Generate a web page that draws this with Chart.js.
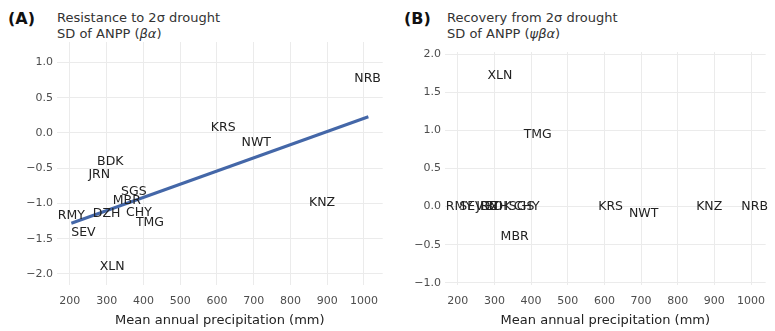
<!DOCTYPE html>
<html>
<head>
<meta charset="utf-8">
<script src="https://cdn.jsdelivr.net/npm/chart.js@4"></script>
<style>
  body { margin: 0; background: #fff; font-family: "DejaVu Sans", sans-serif; }
  #wrap { position: relative; width: 775px; height: 331px; overflow: hidden; }
  .panel { position: absolute; top: 0; height: 331px; }
  .tag { position: absolute; font-size: 16px; font-weight: bold; color: #111; top: 9px; }
  .ttl { position: absolute; font-size: 13px; color: #333; line-height: 16px; top: 10px; }
</style>
</head>
<body>
<div id="wrap">
  <div class="tag" style="left:8px">(A)</div>
  <div class="ttl" style="left:57px">Resistance to 2σ drought<br>SD of ANPP (<i>βα</i>)</div>
  <div class="tag" style="left:404px">(B)</div>
  <div class="ttl" style="left:447px">Recovery from 2σ drought<br>SD of ANPP (<i>ψβα</i>)</div>
  <div class="panel" style="left:0;width:388px"><canvas id="chartA" width="388" height="331"></canvas></div>
  <div class="panel" style="left:388px;width:387px"><canvas id="chartB" width="387" height="331"></canvas></div>
</div>
<script>
// sites and values
const sites      = ["RMY", "SEV", "JRN", "BDK", "DZH", "XLN", "MBR", "SGS", "CHY", "TMG", "KRS", "NWT", "KNZ", "NRB"];
const precip     = [204, 237, 280, 310, 300, 315, 355, 374, 388, 418, 617, 707, 886, 1010];
const resistance = [-1.18, -1.42, -0.59, -0.41, -1.15, -1.90, -0.96, -0.83, -1.13, -1.28, 0.08, -0.14, -0.99, 0.77];
const recovery   = [0, 0, 0, 0, 0, 1.72, -0.40, 0, 0, 0.94, 0, -0.09, 0, 0];

// fitted line (panel A)
const fitPrecip     = [204, 1012];
const fitResistance = [-1.28, 0.23];

const xTicks  = [200, 300, 400, 500, 600, 700, 800, 900, 1000];
const yTicksA = [-2.0, -1.5, -1.0, -0.5, 0.0, 0.5, 1.0];
const yTicksB = [-1.0, -0.5, 0.0, 0.5, 1.0, 1.5, 2.0];

const gridCol = "#ebebeb";
const tickCol = "#4d4d4d";

// draws the site code at each point
const siteLabels = {
  id: "siteLabels",
  afterDatasetsDraw(chart) {
    const ctx = chart.ctx;
    const meta = chart.getDatasetMeta(0);
    ctx.save();
    ctx.font = "12.5px 'DejaVu Sans'";
    ctx.fillStyle = "#222";
    ctx.textAlign = "center";
    ctx.textBaseline = "middle";
    meta.data.forEach((pt, i) => {
      ctx.fillText(sites[i], pt.x, pt.y);
    });
    ctx.restore();
  }
};

function fmtY(v) {
  return v.toFixed(1).replace("-", "\u2212");
}

function makeChart(id, yVals, yTicks, yMin, yMax, xMax, topPad, rightPad, withFit) {
  const datasets = [{
    data: precip.map((p, i) => ({ x: p, y: yVals[i] })),
    pointRadius: 0,
    showLine: false
  }];
  if (withFit) {
    datasets.push({
      type: "line",
      data: fitPrecip.map((p, i) => ({ x: p, y: fitResistance[i] })),
      borderColor: "#4467a8",
      borderWidth: 3,
      pointRadius: 0
    });
  }
  return new Chart(document.getElementById(id), {
    type: "scatter",
    data: { datasets },
    options: {
      responsive: false,
      animation: false,
      layout: { padding: { top: topPad, right: rightPad, left: 0, bottom: 0 } },
      plugins: { legend: { display: false }, tooltip: { enabled: false } },
      scales: {
        x: {
          type: "linear",
          min: 165,
          max: xMax,
          afterBuildTicks: s => { s.ticks = xTicks.map(v => ({ value: v })); },
          afterFit: s => { s.height = 46; },
          grid: { color: gridCol, drawTicks: false },
          border: { display: false },
          ticks: { color: tickCol, font: { size: 11, family: "DejaVu Sans" }, padding: 10, maxRotation: 0,
                   callback: v => String(v) },
          title: { display: true, text: "Mean annual precipitation (mm)", color: "#222",
                   font: { size: 13, family: "DejaVu Sans" }, padding: { top: 0, bottom: 3 } }
        },
        y: {
          min: yMin,
          max: yMax,
          afterBuildTicks: s => { s.ticks = yTicks.map(v => ({ value: v })); },
          afterFit: s => { s.width = 57; },
          grid: { color: gridCol, drawTicks: false },
          border: { display: false },
          ticks: { color: tickCol, font: { size: 11, family: "DejaVu Sans" }, padding: 4,
                   callback: v => fmtY(v) }
        }
      }
    },
    plugins: [siteLabels]
  });
}

makeChart("chartA", resistance, yTicksA, -2.156, 1.29, 1051, 42, 1, true);
makeChart("chartB", recovery, yTicksB, -1.03, 2.03, 1040, 52, 0, false);
</script>
</body>
</html>
